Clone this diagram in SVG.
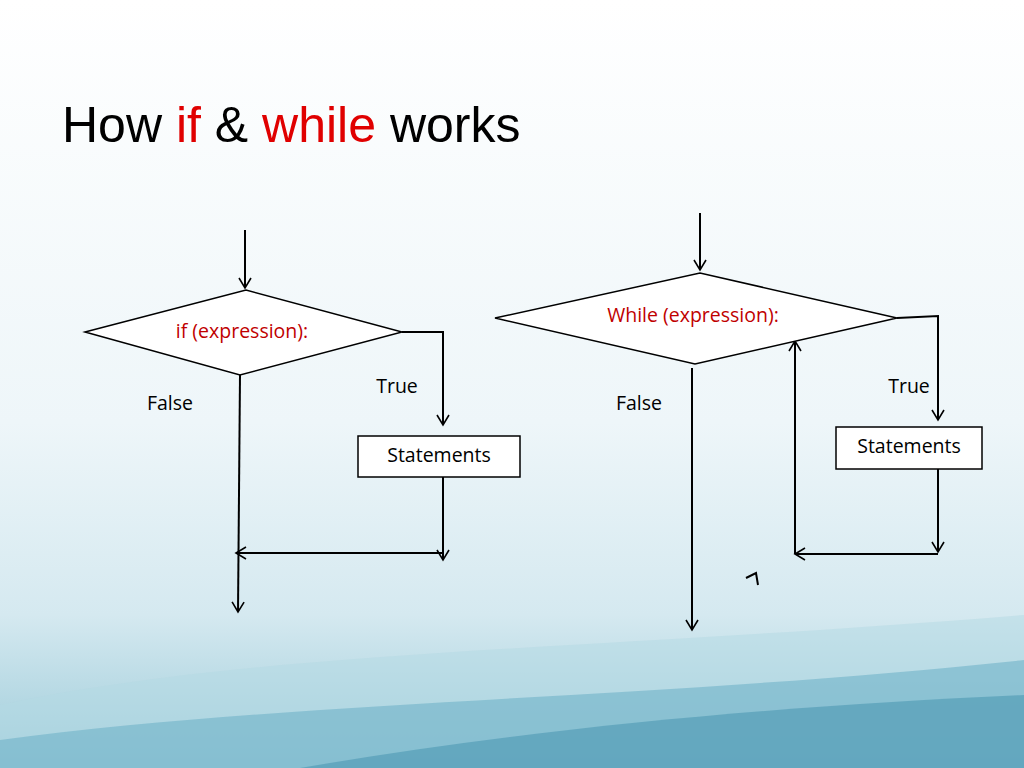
<svg xmlns="http://www.w3.org/2000/svg" width="1024" height="768" viewBox="0 0 1024 768">
<defs>
<linearGradient id="bg" x1="0" y1="0" x2="0" y2="1">
<stop offset="0" stop-color="#ffffff"/><stop offset="0.55" stop-color="#eef6f9"/><stop offset="0.8" stop-color="#d5e9f0"/><stop offset="1" stop-color="#9ccbd9"/>
</linearGradient>
<marker id="ah" markerWidth="14" markerHeight="14" refX="12" refY="7" orient="auto" markerUnits="userSpaceOnUse">
<path d="M2,1 L12,7 L2,13" fill="none" stroke="#000" stroke-width="1.6"/>
</marker>
<style>
.c{fill:none;stroke:#000;stroke-width:2;marker-end:url(#ah)}
.l{fill:none;stroke:#000;stroke-width:2}
.n{fill:#fff;stroke:#000;stroke-width:1.5}
.t{font-family:"Open Sans","Liberation Sans",sans-serif;font-size:19.5px}
</style>
</defs>
<rect width="1024" height="768" fill="url(#bg)"/>
<path d="M0,705 C250,650 600,650 1024,615 L1024,768 L0,768 Z" fill="#b4d9e4" opacity="0.5"/>
<path d="M0,740 C300,700 650,700 1024,660 L1024,768 L0,768 Z" fill="#6fb2c8" opacity="0.6"/>
<path d="M300,768 C550,725 800,705 1024,695 L1024,768 Z" fill="#4c98b3" opacity="0.6"/>
<text x="62" y="142" font-family="Liberation Sans,Arial,sans-serif" font-size="50" fill="#000">How <tspan fill="#e00000">if</tspan> &amp; <tspan fill="#e00000">while</tspan> works</text>
<g id="connectors">
<path class="c" d="M245,230 L245,288"/>
<path class="c" d="M402,332 L443,332 L443,425"/>
<path class="c" d="M443,477 L443,560"/>
<path class="c" d="M443,553 L236,553"/>
<path class="c" d="M240,375 L238,612"/>
<path class="c" d="M700,213 L700,270"/>
<path class="c" d="M897,318 L938,316 L938,420"/>
<path class="c" d="M938,469 L938,552"/>
<path class="c" d="M938,554 L795,554"/>
<path class="c" d="M795,554 L795,341"/>
<path class="c" d="M692,368 L692,630"/>
<path class="l" stroke-width="1.5" d="M746,578 L756,573 L758,585"/>
</g>
<g id="if-diamond"><polygon class="n" points="85,332 246,290 402,332 240,375"/><text class="t" x="242" y="338" text-anchor="middle" fill="#c00000">if (expression):</text></g>
<g id="if-statements"><rect class="n" x="358" y="436" width="162" height="41"/><text class="t" x="439" y="462" text-anchor="middle">Statements</text></g>
<g id="while-diamond"><polygon class="n" points="495,318 700,273 897,318 695,364"/><text class="t" x="693" y="322" text-anchor="middle" fill="#c00000">While (expression):</text></g>
<g id="while-statements"><rect class="n" x="836" y="427" width="146" height="42"/><text class="t" x="909" y="453" text-anchor="middle">Statements</text></g>
<text class="t" x="397" y="393" text-anchor="middle">True</text>
<text class="t" x="170" y="410" text-anchor="middle">False</text>
<text class="t" x="909" y="393" text-anchor="middle">True</text>
<text class="t" x="639" y="410" text-anchor="middle">False</text>
</svg>
